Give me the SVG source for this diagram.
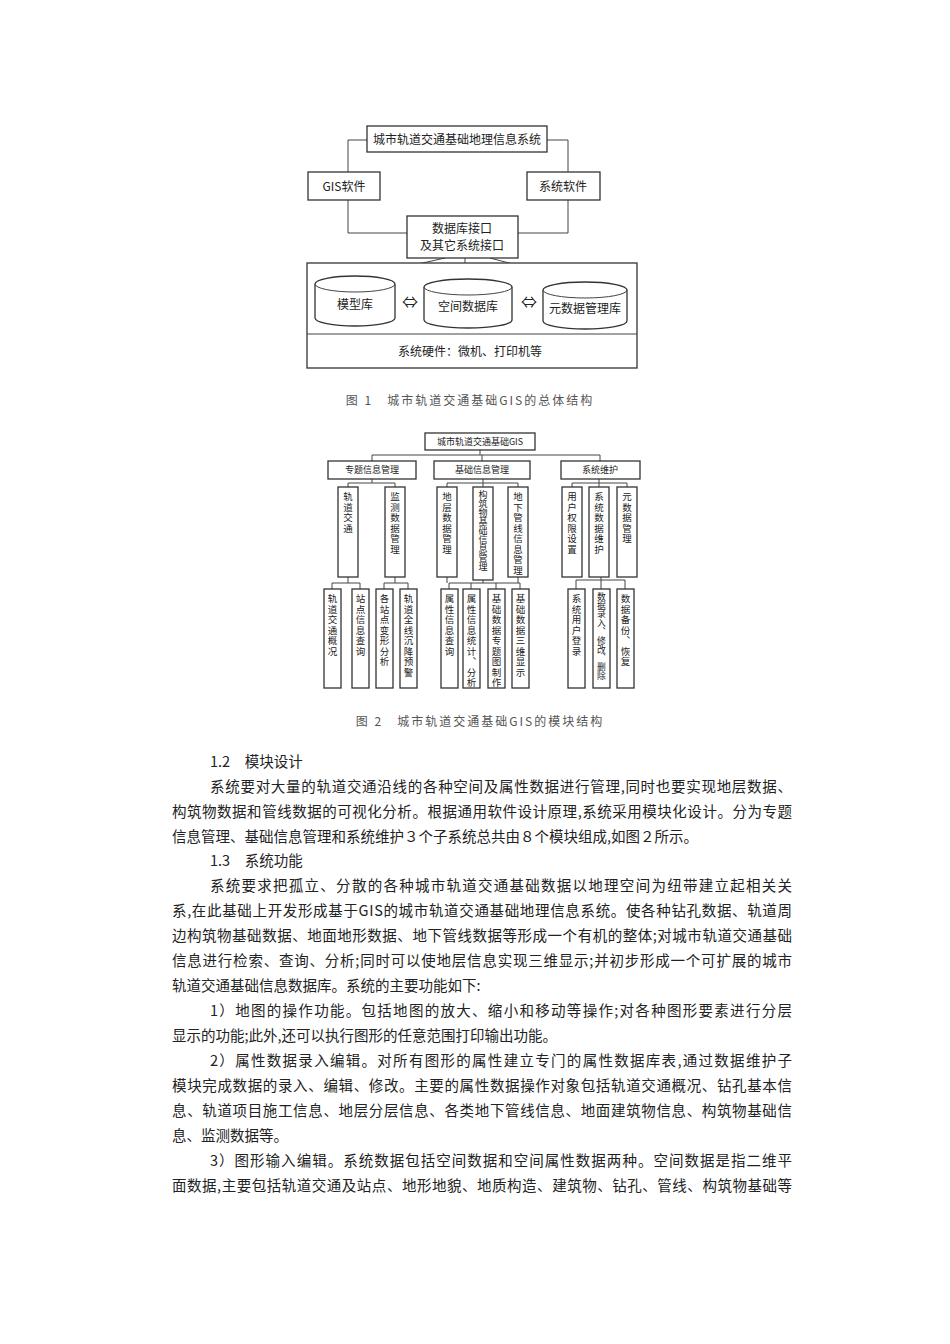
<svg xmlns="http://www.w3.org/2000/svg" width="950" height="1344" viewBox="0 0 950 1344">
<style>
text{font-family:"Noto Sans CJK SC","Liberation Sans",sans-serif;fill:#222}
.b{fill:#fff;stroke:#333;stroke-width:1.3}
.l{fill:none;stroke:#444;stroke-width:1}
.t1{font-size:12px;text-anchor:middle}
.t2{font-size:9px;text-anchor:middle}
.v{font-size:9.5px;writing-mode:vertical-rl;text-anchor:start;letter-spacing:1px}
.cap{font-size:12px;fill:#555;text-anchor:middle;letter-spacing:2px}
.p{font-size:14.5px;fill:#111}
</style>
<rect width="950" height="1344" fill="#fff"/>
<!-- Figure 1 -->
<g id="fig1-connectors" class="l">
<polyline points="367,140 348,140 348,172"/>
<polyline points="547,140 568,140 568,172"/>
<polyline points="348,200 348,233 407,233"/>
<polyline points="568,200 568,233 518,233"/>
<line x1="445" y1="258" x2="360" y2="277"/>
<line x1="465" y1="258" x2="465" y2="280"/>
<line x1="490" y1="258" x2="585" y2="283"/>
</g>
<g id="n-title"><rect class="b" x="367" y="126" width="180" height="26"/><text class="t1" x="457" y="144">城市轨道交通基础地理信息系统</text></g>
<g id="n-gis"><rect class="b" x="308" y="172" width="72" height="28"/><text class="t1" x="344" y="191">GIS软件</text></g>
<g id="n-sys"><rect class="b" x="527" y="172" width="73" height="28"/><text class="t1" x="563" y="191">系统软件</text></g>
<g id="n-iface"><rect class="b" x="407" y="216" width="111" height="42"/><text class="t1" x="462" y="233">数据库接口</text><text class="t1" x="462" y="250">及其它系统接口</text></g>
<g id="n-hw"><rect class="b" x="307" y="263" width="330" height="105"/><line class="l" x1="307" y1="334" x2="637" y2="334"/><text class="t1" x="470" y="356">系统硬件：微机、打印机等</text></g>
<g id="n-model"><path class="b" d="M315,284 A40,8 0 0 1 395,284 V318 A40,8 0 0 1 315,318 Z"/><path class="l" d="M315,284 A40,8 0 0 0 395,284"/><text class="t1" x="355" y="309">模型库</text></g>
<g id="n-space"><path class="b" d="M424,287 A44,8 0 0 1 512,287 V320 A44,8 0 0 1 424,320 Z"/><path class="l" d="M424,287 A44,8 0 0 0 512,287"/><text class="t1" x="468" y="311">空间数据库</text></g>
<g id="n-meta"><path class="b" d="M543,290 A42,8 0 0 1 627,290 V321 A42,8 0 0 1 543,321 Z"/><path class="l" d="M543,290 A42,8 0 0 0 627,290"/><text class="t1" x="585" y="313">元数据管理库</text></g>
<text x="410" y="308" class="t1" style="font-size:16px">⇔</text>
<text x="529" y="308" class="t1" style="font-size:16px">⇔</text>
<text class="cap" x="470" y="405">图 1　城市轨道交通基础GIS的总体结构</text>
<!-- Figure 2 -->
<g id="fig2-connectors" class="l">
<polyline points="480,450 480,455"/>
<polyline points="372,461 372,455 600,455 600,461"/>
<line x1="482" y1="455" x2="482" y2="461"/>
<polyline points="348,487 348,483 395,483 395,487"/><line x1="372" y1="479" x2="372" y2="483"/>
<polyline points="447,487 447,483 518,483 518,487"/><line x1="483" y1="479" x2="483" y2="487"/>
<polyline points="572,487 572,483 627,483 627,487"/><line x1="599" y1="479" x2="599" y2="487"/>
<polyline points="332,589 332,583 360,583 360,589"/><line x1="348" y1="577" x2="348" y2="583"/>
<polyline points="384,589 384,583 408,583 408,589"/><line x1="395" y1="577" x2="395" y2="583"/>
<polyline points="449,589 449,583 520,583 520,589"/><line x1="471" y1="583" x2="471" y2="589"/><line x1="496" y1="583" x2="496" y2="589"/><line x1="447" y1="577" x2="447" y2="583"/><line x1="483" y1="580" x2="483" y2="583"/><line x1="518" y1="577" x2="518" y2="583"/>
<polyline points="576,589 576,580 625,580 625,589"/><line x1="601" y1="577" x2="601" y2="589"/>
</g>
<g id="m-root"><rect class="b" x="425" y="433" width="110" height="17"/><text class="t2" x="480" y="445">城市轨道交通基础GIS</text></g>
<g id="m-a"><rect class="b" x="328" y="461" width="88" height="18"/><text class="t2" x="372" y="473">专题信息管理</text></g>
<g id="m-b"><rect class="b" x="434" y="461" width="96" height="18"/><text class="t2" x="482" y="473">基础信息管理</text></g>
<g id="m-c"><rect class="b" x="561" y="461" width="79" height="18"/><text class="t2" x="600" y="473">系统维护</text></g>
<g id="m-a1"><rect class="b" x="338" y="487" width="20" height="90"/><text class="v" x="348" y="492">轨道交通</text></g>
<g id="m-a2"><rect class="b" x="385" y="487" width="20" height="90"/><text class="v" x="395" y="492">监测数据管理</text></g>
<g id="m-b1"><rect class="b" x="437" y="487" width="20" height="90"/><text class="v" x="447" y="492">地层数据管理</text></g>
<g id="m-b2"><rect class="b" x="473" y="487" width="20" height="93"/><text class="v" x="483" y="490" style="font-size:9px;letter-spacing:0">构筑物基础信息管理</text></g>
<g id="m-b3"><rect class="b" x="508" y="487" width="20" height="90"/><text class="v" x="518" y="492">地下管线信息管理</text></g>
<g id="m-c1"><rect class="b" x="562" y="487" width="20" height="90"/><text class="v" x="572" y="492">用户权限设置</text></g>
<g id="m-c2"><rect class="b" x="589" y="487" width="20" height="90"/><text class="v" x="599" y="492">系统数据维护</text></g>
<g id="m-c3"><rect class="b" x="617" y="487" width="20" height="90"/><text class="v" x="627" y="492">元数据管理</text></g>
<g id="m-a11"><rect class="b" x="324" y="589" width="17" height="99"/><text class="v" x="332.5" y="594">轨道交通概况</text></g>
<g id="m-a12"><rect class="b" x="352" y="589" width="17" height="99"/><text class="v" x="360.5" y="594">站点信息查询</text></g>
<g id="m-a21"><rect class="b" x="376" y="589" width="17" height="99"/><text class="v" x="384.5" y="594">各站点变形分析</text></g>
<g id="m-a22"><rect class="b" x="400" y="589" width="17" height="99"/><text class="v" x="408.5" y="594">轨道全线沉降预警</text></g>
<g id="m-b11"><rect class="b" x="441" y="589" width="17" height="99"/><text class="v" x="449.5" y="594">属性信息查询</text></g>
<g id="m-b12"><rect class="b" x="463" y="589" width="17" height="99"/><text class="v" x="471.5" y="594">属性信息统计、分析</text></g>
<g id="m-b13"><rect class="b" x="488" y="589" width="17" height="99"/><text class="v" x="496.5" y="594">基础数据专题图制作</text></g>
<g id="m-b14"><rect class="b" x="512" y="589" width="17" height="99"/><text class="v" x="520.5" y="594">基础数据三维显示</text></g>
<g id="m-c21"><rect class="b" x="568" y="589" width="17" height="99"/><text class="v" x="576.5" y="594">系统用户登录</text></g>
<g id="m-c22"><rect class="b" x="593" y="589" width="17" height="99"/><text class="v" x="601.5" y="592" style="font-size:8.8px;letter-spacing:0">数据录入、修改、删除</text></g>
<g id="m-c23"><rect class="b" x="617" y="589" width="17" height="99"/><text class="v" x="625.5" y="594">数据备份、恢复</text></g>
<text class="cap" x="480" y="726">图 2　城市轨道交通基础GIS的模块结构</text>
<!-- Body text -->
<g class="p">
<text x="210" y="767">1.2　模块设计</text>
<text x="210" y="792" textLength="582" lengthAdjust="spacing">系统要对大量的轨道交通沿线的各种空间及属性数据进行管理,同时也要实现地层数据、</text>
<text x="172" y="817" textLength="620" lengthAdjust="spacing">构筑物数据和管线数据的可视化分析。根据通用软件设计原理,系统采用模块化设计。分为专题</text>
<text x="172" y="842">信息管理、基础信息管理和系统维护３个子系统总共由８个模块组成,如图２所示。</text>
<text x="210" y="866">1.3　系统功能</text>
<text x="210" y="891" textLength="582" lengthAdjust="spacing">系统要求把孤立、分散的各种城市轨道交通基础数据以地理空间为纽带建立起相关关</text>
<text x="172" y="916" textLength="620" lengthAdjust="spacing">系,在此基础上开发形成基于GIS的城市轨道交通基础地理信息系统。使各种钻孔数据、轨道周</text>
<text x="172" y="941" textLength="620" lengthAdjust="spacing">边构筑物基础数据、地面地形数据、地下管线数据等形成一个有机的整体;对城市轨道交通基础</text>
<text x="172" y="966" textLength="620" lengthAdjust="spacing">信息进行检索、查询、分析;同时可以使地层信息实现三维显示;并初步形成一个可扩展的城市</text>
<text x="172" y="991">轨道交通基础信息数据库。系统的主要功能如下:</text>
<text x="210" y="1016" textLength="582" lengthAdjust="spacing">1）地图的操作功能。包括地图的放大、缩小和移动等操作;对各种图形要素进行分层</text>
<text x="172" y="1041">显示的功能;此外,还可以执行图形的任意范围打印输出功能。</text>
<text x="210" y="1066" textLength="582" lengthAdjust="spacing">2）属性数据录入编辑。对所有图形的属性建立专门的属性数据库表,通过数据维护子</text>
<text x="172" y="1091" textLength="620" lengthAdjust="spacing">模块完成数据的录入、编辑、修改。主要的属性数据操作对象包括轨道交通概况、钻孔基本信</text>
<text x="172" y="1116" textLength="620" lengthAdjust="spacing">息、轨道项目施工信息、地层分层信息、各类地下管线信息、地面建筑物信息、构筑物基础信</text>
<text x="172" y="1141">息、监测数据等。</text>
<text x="210" y="1166" textLength="582" lengthAdjust="spacing">3）图形输入编辑。系统数据包括空间数据和空间属性数据两种。空间数据是指二维平</text>
<text x="172" y="1191" textLength="620" lengthAdjust="spacing">面数据,主要包括轨道交通及站点、地形地貌、地质构造、建筑物、钻孔、管线、构筑物基础等</text>
</g>
</svg>
